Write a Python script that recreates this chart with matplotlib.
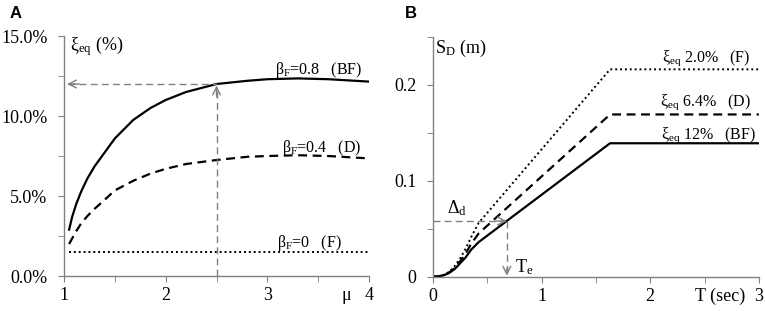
import numpy as np
import matplotlib
matplotlib.use('Agg')
import matplotlib.pyplot as plt
from matplotlib.ticker import MultipleLocator, FuncFormatter

plt.rcParams['font.family'] = ['Liberation Serif', 'DejaVu Serif']
plt.rcParams['mathtext.fontset'] = 'stix'

# Panel A: equivalent damping vs ductility
mu = [1.05, 1.08, 1.12, 1.17, 1.23, 1.3, 1.38, 1.5, 1.68, 1.85, 2.0, 2.2, 2.5, 2.8, 3.0, 3.3, 3.6, 4.0]
xi_bf = [2.9, 3.7, 4.5, 5.3, 6.1, 6.85, 7.55, 8.6, 9.75, 10.5, 11.0, 11.5, 12.0, 12.2, 12.3, 12.35, 12.3, 12.15]
xi_d = [2.0, 2.35, 2.8, 3.3, 3.75, 4.2, 4.65, 5.35, 5.95, 6.4, 6.7, 7.0, 7.25, 7.45, 7.5, 7.55, 7.5, 7.35]
xi_f = [1.5] * len(mu)
mu_des = 2.5
xi_des = 12.0

# Panel B: displacement spectra
T = [0, 0.05, 0.1, 0.15, 0.2, 0.25, 0.3, 0.35, 0.42, 1.63, 3.0]
sd_bf = [0, 0.0003, 0.0015, 0.004, 0.008, 0.014, 0.020, 0.028, 0.036, 0.139, 0.139]
sd_d = [0, 0.0003, 0.0017, 0.0045, 0.009, 0.016, 0.024, 0.034, 0.045, 0.169, 0.169]
sd_f = [0, 0.0003, 0.002, 0.005, 0.011, 0.019, 0.029, 0.041, 0.056, 0.216, 0.216]
T_e = 0.68
delta_d = 0.058

grey = '#808080'
fs = 13
fa = 11.5

fig = plt.figure(figsize=(7.65, 3.11), dpi=100)
axA = fig.add_axes([0.0837, 0.1125, 0.3987, 0.7717])
axB = fig.add_axes([0.566, 0.1103, 0.426, 0.7717])

for ax in (axA, axB):
    for s in ('top', 'right'):
        ax.spines[s].set_visible(False)
    for s in ('left', 'bottom'):
        ax.spines[s].set_color(grey)
        ax.spines[s].set_linewidth(1)
    ax.tick_params(which='both', direction='out', length=4, color=grey, labelsize=fs)
    ax.tick_params(axis='y', pad=8)
    ax.tick_params(axis='x', pad=4)


def arrow_head(ax, tip, tail):
    ax.annotate('', xy=tip, xytext=tail,
                arrowprops=dict(arrowstyle='->', color=grey, lw=1,
                                mutation_scale=14, shrinkA=0, shrinkB=0))


# ---- A ----
ax = axA
ax.plot(mu, xi_bf, color='black', lw=1.6)
ax.plot(mu, xi_d, color='black', lw=1.6, ls=(0, (4, 2.5)))
ax.plot(mu, xi_f, color='black', lw=1.4, ls=(0, (1, 1.5)))
ax.plot([mu_des, mu_des], [0, xi_des - 0.3], color=grey, lw=1, ls=(0, (5, 3)))
ax.plot([1.04, mu_des], [xi_des, xi_des], color=grey, lw=1, ls=(0, (5, 3)))
arrow_head(ax, (mu_des, xi_des - 0.1), (mu_des, xi_des - 0.8))
arrow_head(ax, (1.03, xi_des), (1.15, xi_des))
ax.set_xlim(1, 4)
ax.set_ylim(0, 15)
ax.xaxis.set_major_locator(MultipleLocator(1))
ax.xaxis.set_minor_locator(MultipleLocator(0.5))
ax.yaxis.set_major_locator(MultipleLocator(5))
ax.yaxis.set_minor_locator(MultipleLocator(2.5))
ax.yaxis.set_major_formatter(FuncFormatter(lambda v, p: f'{v:.1f}%'))
ax.text(1.06, 14.1, r'$\mathregular{ξ_{eq}}$ (%)', fontsize=fs, va='baseline', ha='left')
ax.text(3.94, 12.6, r'$\mathregular{β_F}$=0.8   (BF)', fontsize=fa, ha='right', va='baseline')
ax.text(3.93, 7.77, r'$\mathregular{β_F}$=0.4   (D)', fontsize=fa, ha='right', va='baseline')
ax.text(3.73, 1.83, r'$\mathregular{β_F}$=0   (F)', fontsize=fa, ha='right', va='baseline')
ax.text(3.78, -0.7, 'μ', fontsize=fs, ha='center', va='top')

# ---- B ----
ax = axB
ax.plot(T, sd_bf, color='black', lw=1.6)
ax.plot(T, sd_d, color='black', lw=1.6, ls=(0, (4, 2.5)))
ax.plot(T, sd_f, color='black', lw=1.4, ls=(0, (1, 1.5)))
ax.plot([0, T_e - 0.03], [delta_d, delta_d], color=grey, lw=1, ls=(0, (5, 3)))
ax.plot([T_e, T_e], [delta_d, 0.003], color=grey, lw=1, ls=(0, (5, 3)))
arrow_head(ax, (T_e, delta_d), (T_e - 0.1, delta_d))
arrow_head(ax, (T_e, 0.001), (T_e, 0.009))
ax.set_xlim(0, 3)
ax.set_ylim(0, 0.25)
ax.xaxis.set_major_locator(MultipleLocator(1))
ax.xaxis.set_minor_locator(MultipleLocator(0.5))
ax.yaxis.set_major_locator(MultipleLocator(0.1))
ax.yaxis.set_minor_locator(MultipleLocator(0.05))
ax.yaxis.set_major_formatter(FuncFormatter(lambda v, p: '0' if v == 0 else f'{v:.1f}'))
ax.text(0.02, 0.233, r'$\mathregular{S_D}$ (m)', fontsize=fs, va='baseline', ha='left')
ax.text(0.126, 0.066, r'$\mathregular{Δ_d}$', fontsize=fs, ha='left', va='baseline')
ax.text(0.755, 0.005, r'$\mathregular{T_e}$', fontsize=fs, ha='left', va='baseline')
ax.text(2.92, 0.224, r'$\mathregular{ξ_{eq}}$ 2.0%   (F)', fontsize=fa, ha='right', va='baseline')
ax.text(2.93, 0.178, r'$\mathregular{ξ_{eq}}$ 6.4%   (D)', fontsize=fa, ha='right', va='baseline')
ax.text(2.97, 0.144, r'$\mathregular{ξ_{eq}}$ 12%   (BF)', fontsize=fa, ha='right', va='baseline')
ax.text(2.87, -0.0115, 'T (sec)', fontsize=fs, ha='right', va='top')

fig.text(10 / 765, 1 - 14 / 311, 'A', fontsize=12, fontweight='bold', family='Liberation Sans', va='center')
fig.text(405 / 765, 1 - 14 / 311, 'B', fontsize=12, fontweight='bold', family='Liberation Sans', va='center')

fig.savefig('out.png', dpi=100)
